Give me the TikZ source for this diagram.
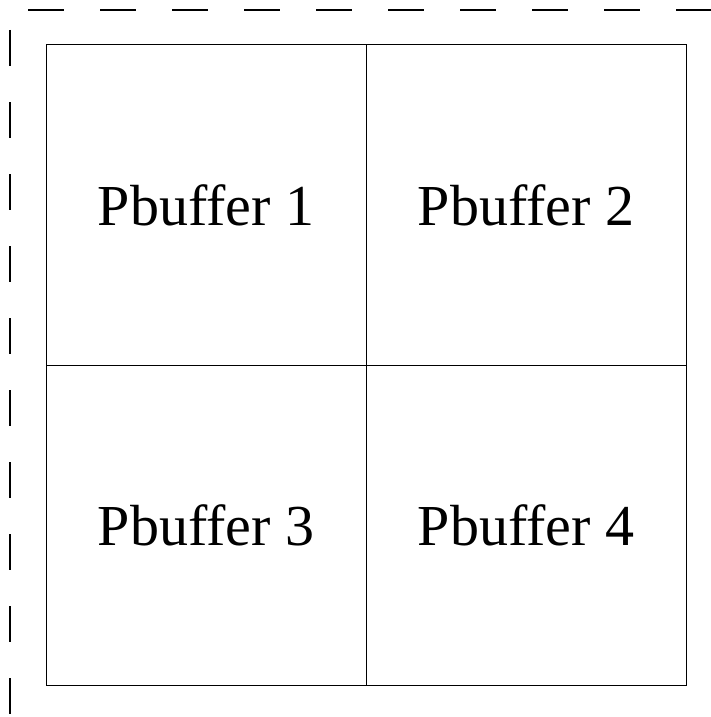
\documentclass[tikz,border=0pt]{standalone}
\usepackage{fontspec}
\setmainfont{Liberation Serif}
\usetikzlibrary{positioning}

\begin{document}
\begin{tikzpicture}[x=1pt,y=-1pt,
		cell/.style={draw, line width=1pt, minimum width=320pt, minimum height=320pt, inner sep=0pt, font=\fontsize{58}{58}\selectfont},
		frame/.style={line width=1.1pt, dash pattern=on 36pt off 36pt}]
			\useasboundingbox (0,0) rectangle (711,717);
			\coordinate (ttop) at (28,10);
			\coordinate (tend) at (711,10);
			\coordinate (ltop) at (10,30);
			\coordinate (lend) at (10,717);
			\draw [frame] (ttop) -- (tend);
			\draw [frame] (ltop) -- (lend);
			\node [cell] (p1) at (206,205) {Pbuffer 1};
			\node [cell] (p2) at (526,205) {Pbuffer 2};
			\node [cell] (p3) at (206,525) {Pbuffer 3};
			\node [cell] (p4) at (526,525) {Pbuffer 4};
		\end{tikzpicture}
\end{document}
